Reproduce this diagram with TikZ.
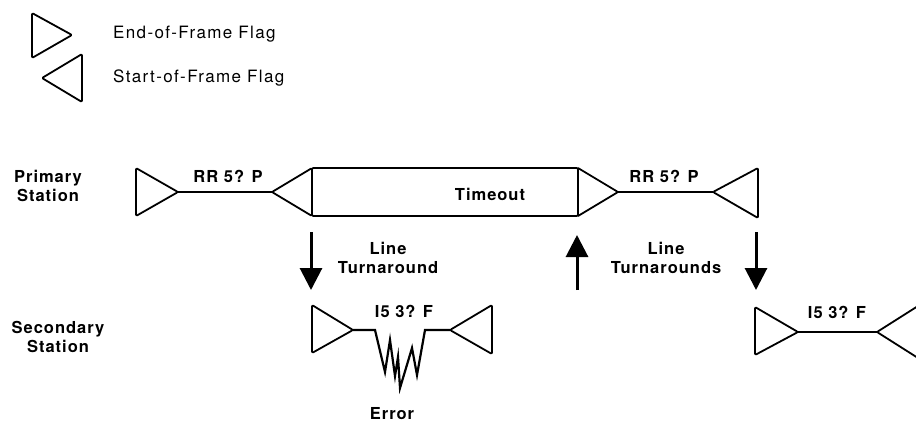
\documentclass[tikz,border=0pt]{standalone}
\usepackage{fontspec}
\usetikzlibrary{arrows.meta}
\newfontfamily\labfont[LetterSpace=6]{TeX Gyre Heros}
\newfontfamily\legfont[LetterSpace=8]{TeX Gyre Heros}
\begin{document}
\begin{tikzpicture}[x=1pt,y=-1pt,
  flag/.style={line width=1.8pt,line join=round,rounded corners=1.2pt},
  wire/.style={line width=1.8pt},
  lbl/.style={font=\labfont\bfseries\fontsize{16.5}{19.5}\selectfont,inner sep=0pt,align=center},
  leg/.style={font=\legfont\fontsize{17}{20}\selectfont,inner sep=0pt,anchor=west},
  turn/.style={-{Triangle[width=22pt,length=22pt]},line width=3pt}]
\useasboundingbox (0,0) rectangle (916,426);
\clip (0,0) rectangle (916,426);

% legend
\draw[flag] (32,13) -- (72,35) -- (32,58) -- cycle;
\draw[flag] (82,54) -- (42,78) -- (82,102) -- cycle;
\node[leg] (lege) at (113,34) {End-of-Frame Flag};
\node[leg] (legs) at (113,78) {Start-of-Frame Flag};

% station labels
\node[lbl] (prim) at (48,186) {Primary\\Station};
\node[lbl] (sec) at (58,337) {Secondary\\Station};

% primary station row
\coordinate (pe1) at (178,192);
\coordinate (ps1) at (272,192);
\coordinate (pe2) at (618,192);
\coordinate (ps2) at (713,192);
\draw[flag] (136,168) -- (pe1) -- (136,216) -- cycle;
\draw[flag] (ps1) -- (312,168) -- (312,216) -- cycle;
\draw[flag] (312,168) rectangle (578,216);
\draw[flag] (578,168) -- (pe2) -- (578,216);
\draw[flag] (ps2) -- (758,168) -- (758,218) -- cycle;
\draw[wire] (pe1) -- (ps1);
\draw[wire] (pe2) -- (ps2);
\node[lbl] (rr1) at (228,176) {RR 5? P};
\node[lbl] (rr2) at (664,176) {RR 5? P};
\node[lbl] (tmo) at (490,194) {Timeout};

% turnaround arrows
\coordinate (a1s) at (311,232);
\coordinate (a1e) at (311,290);
\coordinate (a2s) at (577,290);
\coordinate (a2e) at (577,235);
\coordinate (a3s) at (756,232);
\coordinate (a3e) at (756,290);
\draw[turn] (a1s) -- (a1e);
\draw[turn] (a2s) -- (a2e);
\draw[turn] (a3s) -- (a3e);
\node[lbl] (lt1) at (388,258) {Line\\Turnaround};
\node[lbl] (lt2) at (666,258) {Line\\Turnarounds};

% secondary station, first frame with error
\coordinate (se1) at (353,330);
\coordinate (ss1) at (450,330);
\draw[flag] (312,305) -- (se1) -- (312,353) -- cycle;
\draw[flag] (ss1) -- (492,305) -- (492,354) -- cycle;
\draw[wire,line width=2.2pt,line join=miter] (se1) -- (375,330) -- (385,372) -- (390,340) -- (395,376)
  -- (398,357) -- (400,388) -- (412,348) -- (417,375) -- (425,330) -- (ss1);
\node[lbl] (i51) at (404,311) {I5 3? F};
\node[lbl] (err) at (392,414) {Error};

% secondary station, second frame
\coordinate (se2) at (798,332);
\coordinate (ss2) at (877,332);
\draw[flag] (755,307) -- (se2) -- (755,355) -- cycle;
\draw[flag] (ss2) -- (918,306) -- (918,358) -- cycle;
\draw[wire] (se2) -- (ss2);
\node[lbl] (i52) at (837,312) {I5 3? F};
\end{tikzpicture}
\end{document}
